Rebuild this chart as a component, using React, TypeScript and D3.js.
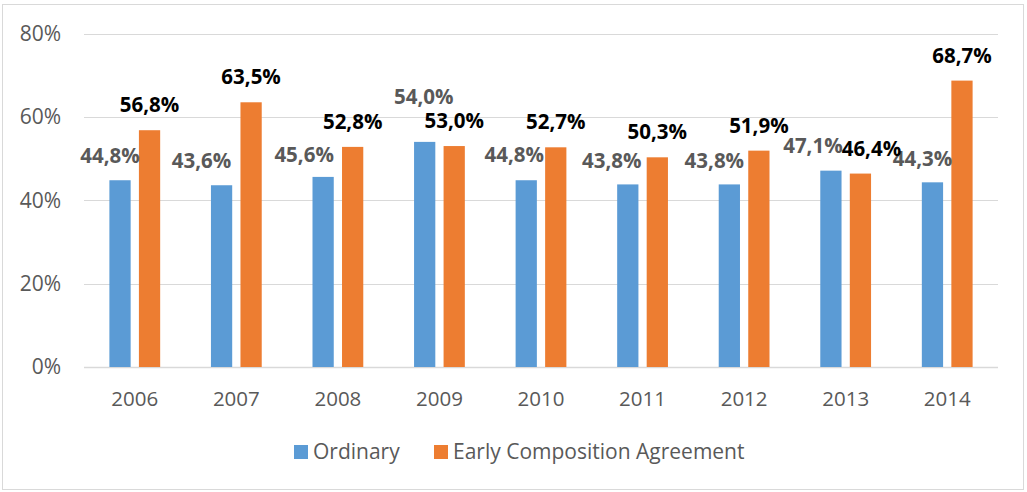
import { useEffect, useRef } from 'react';
import * as d3 from 'd3';

const years = ['2006', '2007', '2008', '2009', '2010', '2011', '2012', '2013', '2014'];
const ordinary = [44.8, 43.6, 45.6, 54.0, 44.8, 43.8, 43.8, 47.1, 44.3];
const earlyAgreement = [56.8, 63.5, 52.8, 53.0, 52.7, 50.3, 51.9, 46.4, 68.7];
const yTicks = [0, 20, 40, 60, 80];
const seriesNames = ['Ordinary', 'Early Composition Agreement'];

// label nudges (Excel moved some labels to avoid overlaps)
const ordinaryLabelDx = [-10, -20, -19, -1, -12, -16, -15, -18, -10];
const ordinaryLabelDy = [-17, -17, -15, -38, -18, -16, -16, -18, -16];
const earlyLabelDx = [0, 0, 0, 0, 0, 0, 0, 11, 0];

const W = 1027;
const H = 492;
const FONT = '"Open Sans", sans-serif';

export default function App() {
  const svgRef = useRef<SVGSVGElement>(null);

  useEffect(() => {
    if (!svgRef.current) return;
    const svg = d3.select(svgRef.current);
    svg.selectAll('*').remove();

    svg.append('rect')
      .attr('x', 2.5).attr('y', 4.5)
      .attr('width', 1021).attr('height', 485)
      .attr('fill', '#fff')
      .attr('stroke', '#d9d9d9');

    const x0 = d3.scaleBand<string>()
      .domain(years)
      .range([84, 998])
      .paddingInner(0.5)
      .paddingOuter(0.25);

    const x1 = d3.scaleBand<number>()
      .domain([0, 1])
      .range([0, x0.bandwidth()])
      .paddingInner(0.28);

    const y = d3.scaleLinear().domain([0, 80]).range([367, 33.5]);

    // gridlines
    svg.append('g')
      .selectAll('line')
      .data(yTicks)
      .join('line')
      .attr('x1', 84).attr('x2', 998)
      .attr('y1', d => Math.round(y(d)) + 0.5)
      .attr('y2', d => Math.round(y(d)) + 0.5)
      .attr('stroke', '#d9d9d9')
      .attr('stroke-width', d => (d === 0 ? 1.5 : 1));

    svg.append('g')
      .selectAll('text')
      .data(yTicks)
      .join('text')
      .attr('x', 61)
      .attr('y', d => y(d))
      .attr('dy', '0.35em')
      .attr('text-anchor', 'end')
      .attr('font-family', FONT)
      .attr('font-size', 21)
      .attr('fill', '#595959')
      .text(d => `${d}%`);

    svg.append('g')
      .selectAll('text')
      .data(years)
      .join('text')
      .attr('x', d => (x0(d) ?? 0) + x0.bandwidth() / 2)
      .attr('y', 406)
      .attr('text-anchor', 'middle')
      .attr('font-family', FONT)
      .attr('font-size', 20.5)
      .attr('fill', '#595959')
      .text(d => d);

    const colors = ['#5b9bd5', '#ed7d31'];
    const series = [ordinary, earlyAgreement];

    series.forEach((vals, s) => {
      svg.append('g')
        .selectAll('rect')
        .data(vals)
        .join('rect')
        .attr('x', (d, i) => (x0(years[i]) ?? 0) + (x1(s) ?? 0))
        .attr('y', d => y(d))
        .attr('width', x1.bandwidth())
        .attr('height', d => y(0) - y(d))
        .attr('fill', colors[s]);
    });

    const fmt = (v: number) => v.toFixed(1).replace('.', ',') + '%';

    svg.append('g')
      .selectAll('text')
      .data(ordinary)
      .join('text')
      .attr('x', (d, i) => (x0(years[i]) ?? 0) + (x1(0) ?? 0) + x1.bandwidth() / 2 + ordinaryLabelDx[i])
      .attr('y', (d, i) => y(d) + ordinaryLabelDy[i])
      .attr('text-anchor', 'middle')
      .attr('font-family', FONT)
      .attr('font-size', 20.5)
      .attr('font-weight', 'bold')
      .attr('fill', '#595959')
      .text(d => fmt(d));

    svg.append('g')
      .selectAll('text')
      .data(earlyAgreement)
      .join('text')
      .attr('x', (d, i) => (x0(years[i]) ?? 0) + (x1(1) ?? 0) + x1.bandwidth() / 2 + earlyLabelDx[i])
      .attr('y', d => y(d) - 18)
      .attr('text-anchor', 'middle')
      .attr('font-family', FONT)
      .attr('font-size', 20.5)
      .attr('font-weight', 'bold')
      .attr('fill', '#000')
      .text(d => fmt(d));

    // legend
    const legendX = [294, 434];
    const leg = svg.append('g');
    seriesNames.forEach((name, s) => {
      leg.append('rect')
        .attr('x', legendX[s]).attr('y', 445)
        .attr('width', 14).attr('height', 14)
        .attr('fill', colors[s]);
      leg.append('text')
        .attr('x', legendX[s] + 19)
        .attr('y', 452)
        .attr('dy', '0.35em')
        .attr('font-family', FONT)
        .attr('font-size', 21)
        .attr('fill', '#595959')
        .text(name);
    });
  }, []);

  return (
    <svg
      ref={svgRef}
      width={W}
      height={H}
      style={{ position: 'absolute', left: 0, top: 0, background: '#fff' }}
    />
  );
}
